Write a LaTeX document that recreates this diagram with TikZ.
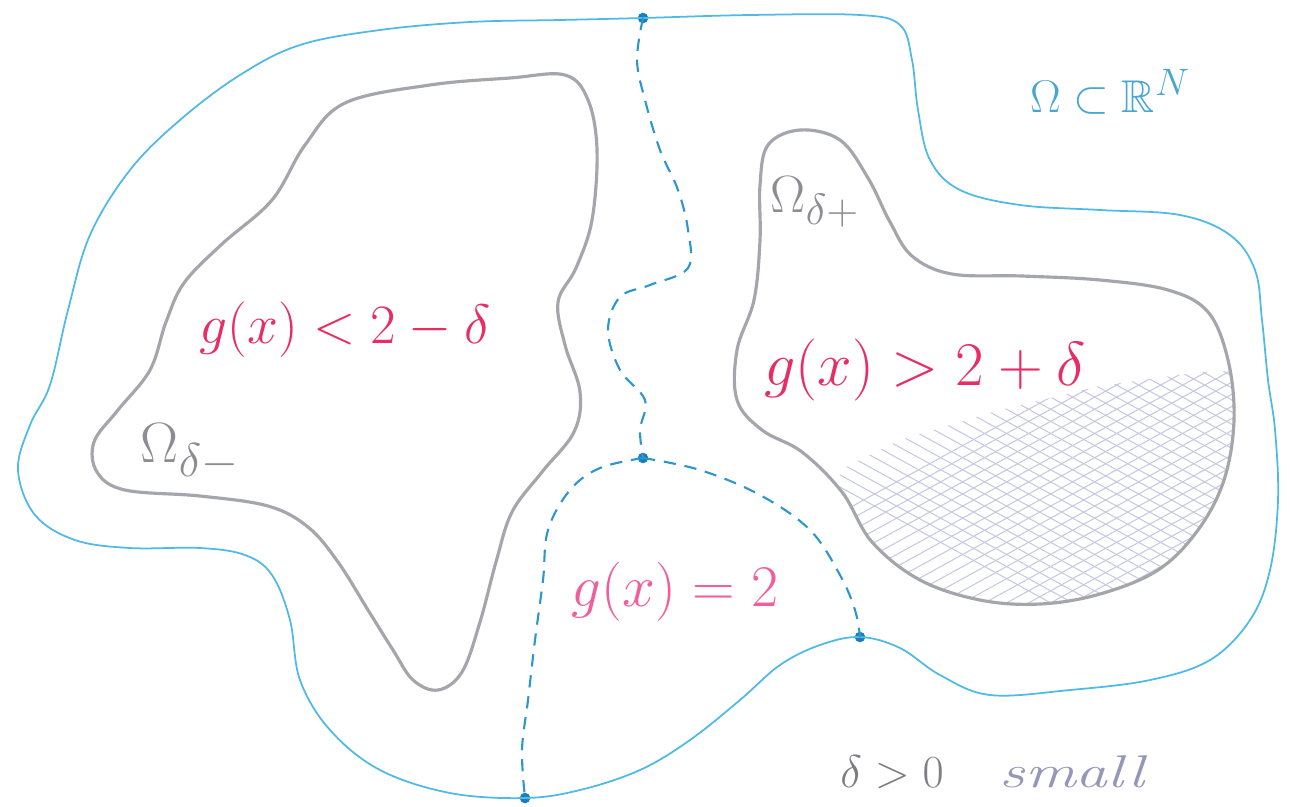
\documentclass[tikz,border=0pt]{standalone}
\usepackage{amssymb}
\begin{document}
\begin{tikzpicture}[x=0.02cm,y=-0.02cm,
  outer/.style={draw=omblue,line width=1pt,line join=round},
  inner/.style={draw=ingray,line width=1.8pt,line join=round},
  cut/.style={draw=cutblue,line width=1.2pt,dash pattern=on 7pt off 5pt},
  dot/.style={circle,fill=dotblue,inner sep=0pt,minimum size=6pt},
  hatchline/.style={draw=hatch,line width=0.6pt},
  bigtext/.style={font=\fontsize{24.88}{28}\selectfont,transform shape},
  redlabel/.style={bigtext,text=gred},
  graylabel/.style={bigtext,text=ingray!85!black}]
\definecolor{omblue}{RGB}{80,185,230}
\definecolor{cutblue}{RGB}{45,150,205}
\definecolor{dotblue}{RGB}{25,125,190}
\definecolor{ingray}{RGB}{165,165,172}
\definecolor{gred}{RGB}{232,45,100}
\definecolor{gpink}{RGB}{240,95,155}
\definecolor{hatch}{RGB}{200,200,228}
\definecolor{txtgray}{RGB}{125,125,130}
\definecolor{smallc}{RGB}{150,150,185}
\useasboundingbox (0,0) rectangle (1290,806);
\fill[white] (0,0) rectangle (1290,806);
% junction points
\node[dot] (top) at (643,18) {};
\node[dot] (mid) at (643,458) {};
\node[dot] (bot) at (525,798) {};
\node[dot] (rgt) at (860,637) {};
% outer domain Omega
\draw[outer] plot[smooth cycle,tension=0.6] coordinates {
 (643,18) (750,15) (860,15) (900,25) (912,60) (918,110) (930,160) (960,190)
 (1020,205) (1100,210) (1180,215) (1230,235) (1255,270) (1262,320) (1268,380)
 (1275,430) (1278,500) (1270,570) (1250,620) (1210,660) (1150,680) (1070,690)
 (990,695) (940,675) (900,648) (860,637) (820,645) (780,665) (740,700) (690,740)
 (640,770) (580,790) (525,798) (450,793) (380,770) (330,730) (300,680) (290,620)
 (272,575) (245,555) (200,548) (130,548) (75,540) (35,515) (18,470) (30,425)
 (50,385) (68,310) (90,235) (130,170) (180,120) (240,75) (300,45) (380,30)
 (470,22) (560,20)};
% Omega delta minus
\draw[inner] plot[smooth cycle,tension=0.6] coordinates {
 (305,145) (345,103) (430,85) (510,78) (565,75) (588,100) (597,150) (592,220)
 (576,268) (558,302) (565,345) (580,392) (574,432) (542,472) (512,512) (496,562)
 (480,622) (462,672) (438,690) (413,680) (393,650) (368,610) (338,562) (308,527)
 (268,506) (200,496) (125,490) (97,472) (94,442) (118,410) (150,370) (166,322)
 (184,283) (222,244) (272,200)};
% Omega delta plus
\path[save path=\rightcurve] plot[smooth cycle,tension=0.6] coordinates {
 (768,145) (800,130) (840,140) (868,178) (890,222) (912,256) (952,274) (1022,276)
 (1100,280) (1168,290) (1208,312) (1228,360) (1234,420) (1224,480) (1198,530)
 (1158,570) (1100,594) (1040,604) (980,600) (920,580) (872,542) (842,492)
 (802,452) (762,430) (737,400) (737,350) (754,300) (760,240) (760,185)};
\begin{scope}
 \clip[use path=\rightcurve];
 \clip (840,470) -- (900,440) -- (1000,410) -- (1100,386) -- (1200,372) -- (1260,370) -- (1260,640) -- (840,640) -- cycle;
 \foreach \k in {0,...,45}{
  \draw[hatchline] (500+\k*22,300) -- ++(600,330);
  \draw[hatchline] (500+\k*22,700) -- ++(600,-330);
 }
\end{scope}
\draw[inner,use path=\rightcurve];
% level set g = 2 (dashed cut lines)
\draw[cut] plot[smooth,tension=0.6] coordinates {(top) (637,60) (645,100) (660,150)
 (678,190) (688,230) (688,268) (650,285) (620,297) (608,330) (620,370) (645,400)
 (640,430) (mid)};
\draw[cut] plot[smooth,tension=0.6] coordinates {(mid) (600,468) (570,490) (548,530)
 (543,580) (535,640) (528,700) (522,750) (bot)};
\draw[cut] plot[smooth,tension=0.6] coordinates {(mid) (700,470) (760,495) (810,530)
 (840,575) (855,610) (rgt)};
% labels
\node[redlabel,scale=1.27] (lless) at (345,330) {$g(x) < 2-\delta$};
\node[redlabel,scale=1.42] (lmore) at (925,370) {$g(x) > 2+\delta$};
\node[bigtext,text=gpink,scale=1.35] (leq) at (675,592) {$g(x) = 2$};
\node[bigtext,text=omblue!90!black,scale=1.05] (lomega) at (1110,92) {$\Omega\subset\mathbb{R}^N$};
\node[graylabel,scale=1.2] (lplus) at (815,202) {$\Omega_{\delta+}$};
\node[graylabel,scale=1.3] (lminus) at (190,452) {$\Omega_{\delta-}$};
\node[bigtext,text=txtgray,scale=1.05] (ldelta) at (892,772) {$\delta > 0$};
\node[bigtext,text=smallc,font=\fontsize{24.88}{28}\selectfont\itshape,xscale=1.45,yscale=1.05] (lsmall) at (1072,772) {small};
\end{tikzpicture}
\end{document}
